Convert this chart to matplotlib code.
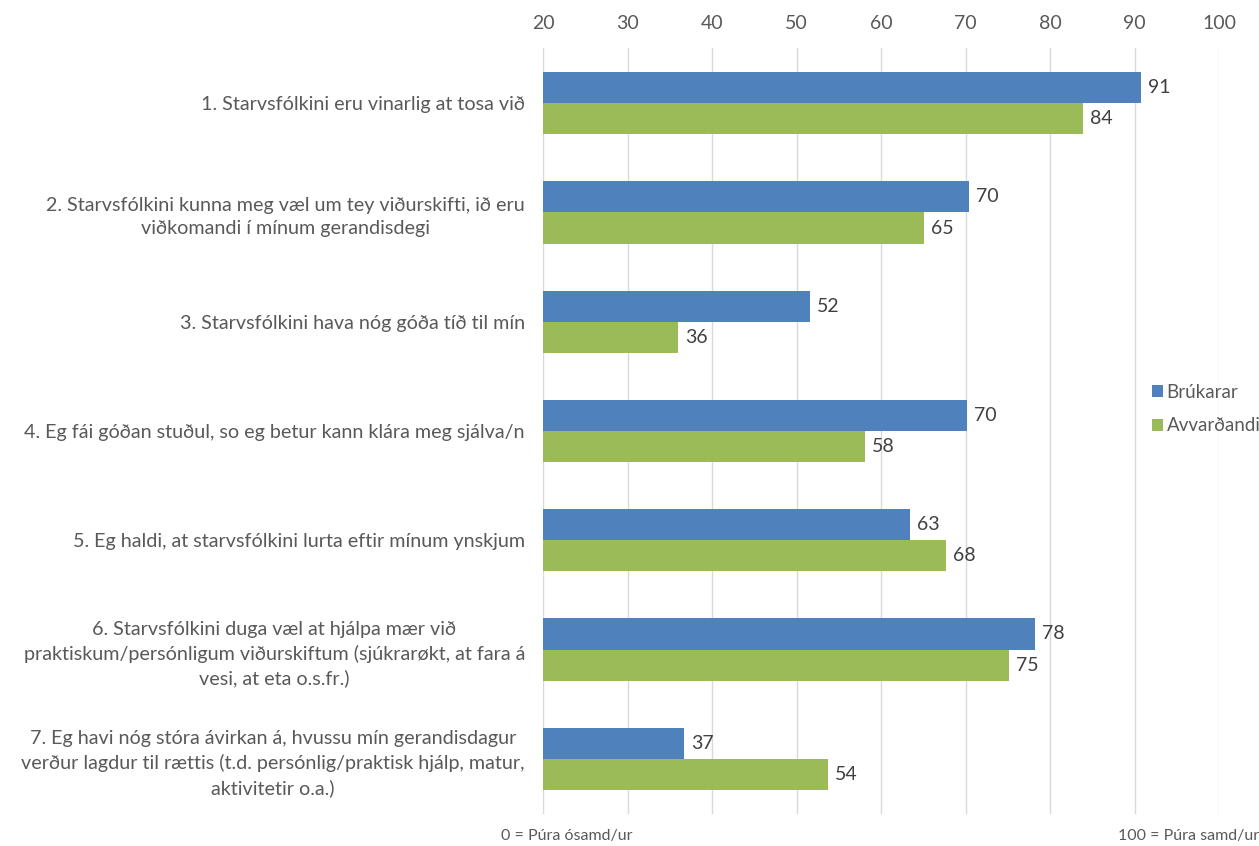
import numpy as np
import matplotlib.pyplot as plt

plt.rcParams['font.family'] = ['Lato', 'DejaVu Sans']

categories = [
    "1. Starvsfólkini eru vinarlig at tosa við",
    "2. Starvsfólkini kunna meg væl um tey viðurskifti, ið eru\nviðkomandi í mínum gerandisdegi",
    "3. Starvsfólkini hava nóg góða tíð til mín",
    "4. Eg fái góðan stuðul, so eg betur kann klára meg sjálva/n",
    "5. Eg haldi, at starvsfólkini lurta eftir mínum ynskjum",
    "6. Starvsfólkini duga væl at hjálpa mær við\npraktiskum/persónligum viðurskiftum (sjúkrarøkt, at fara á\nvesi, at eta o.s.fr.)",
    "7. Eg havi nóg stóra ávirkan á, hvussu mín gerandisdagur\nverður lagdur til rættis (t.d. persónlig/praktisk hjálp, matur,\naktivitetir o.a.)",
]
brukarar = [90.8, 70.4, 51.6, 70.2, 63.4, 78.2, 36.7]
avvardandi = [83.9, 65.1, 36.0, 58.1, 67.7, 75.1, 53.7]
series_names = ["Brúkarar", "Avvarðandi"]
ticks = [20, 30, 40, 50, 60, 70, 80, 90, 100]

blue = "#4F81BD"
green = "#9BBB59"
txt = "#595959"

fig = plt.figure(figsize=(12.59, 8.46), dpi=100)
ax = fig.add_axes([543 / 1259, 1 - 813.5 / 846, 676 / 1259, 765 / 846])

y = np.arange(len(categories))
h = 0.285
b1 = ax.barh(y - h / 2, np.array(brukarar) - 20, left=20, height=h, color=blue, label=series_names[0])
b2 = ax.barh(y + h / 2, np.array(avvardandi) - 20, left=20, height=h, color=green, label=series_names[1])

for bars, vals in [(b1, brukarar), (b2, avvardandi)]:
    for rect, v in zip(bars, vals):
        ax.annotate(f"{v:.0f}", (v, rect.get_y() + rect.get_height() / 2),
                    xytext=(5, 0), textcoords="offset points",
                    ha="left", va="center", fontsize=14, color="#404040")

ax.set_xlim(20, 100)
ax.set_ylim(len(categories) - 0.5, -0.5)
ax.set_xticks(ticks)
ax.xaxis.tick_top()
ax.tick_params(axis="x", length=0, labelsize=14, labelcolor=txt, pad=12)
ax.set_yticks(y)
ax.set_yticklabels(categories, fontsize=14.2, color=txt, multialignment="center", linespacing=1.45)
ax.tick_params(axis="y", length=0, pad=13)
ax.grid(axis="x", color="#d9d9d9", linewidth=1)
ax.set_axisbelow(True)
for s in ax.spines.values():
    s.set_visible(False)

fig.legend(loc="upper left", bbox_to_anchor=(1144 / 1259, 1 - 376 / 846), frameon=False,
           fontsize=13.5, labelcolor=txt, handlelength=0.6, handleheight=0.6,
           handletextpad=0.2, labelspacing=0.9, borderaxespad=0)

fig.text(567 / 1259, 1 - 836 / 846, "0 = Púra ósamd/ur", ha="center", va="center", fontsize=11.5, color=txt)
fig.text(1.0, 1 - 836 / 846, "100 = Púra samd/ur", ha="right", va="center", fontsize=11.5, color=txt)

fig.savefig("out.png", dpi=100)
